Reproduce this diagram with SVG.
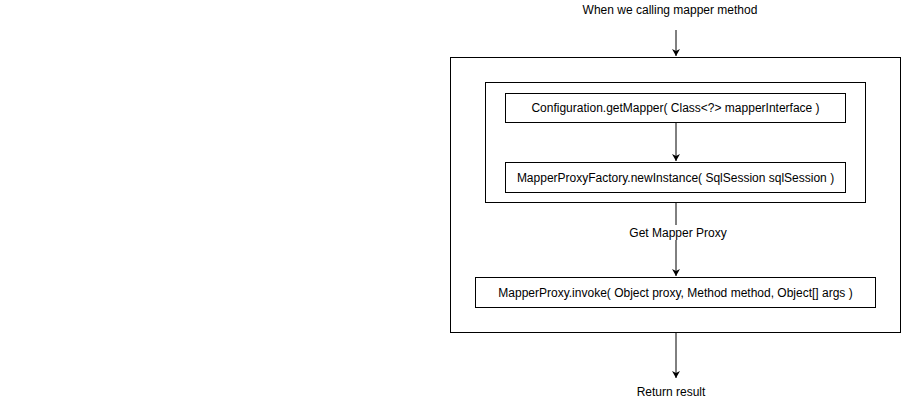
<svg xmlns="http://www.w3.org/2000/svg" width="901" height="403" viewBox="0 0 901 403">
<style>
.box{fill:#fff;stroke:#000;stroke-width:1}
.ln{stroke:#000;stroke-width:1;fill:none}
text{font-family:"Liberation Sans",Arial,sans-serif;font-size:12px;fill:#000;text-anchor:middle}
</style>
<defs>
<marker id="ah" markerWidth="10" markerHeight="10" refX="7" refY="4" orient="auto" markerUnits="userSpaceOnUse">
<path d="M0,0 L7,4 L0,8 L2,4 Z" fill="#000"/>
</marker>
</defs>
<rect width="901" height="403" fill="#fff"/>
<g id="outer"><rect class="box" x="450.5" y="57.5" width="450" height="275"/></g>
<g id="inner"><rect class="box" x="485.5" y="82.5" width="380" height="120"/></g>
<g id="start"><text x="670" y="14">When we calling mapper method</text></g>
<g id="getMapper"><rect class="box" x="505.5" y="93.5" width="340" height="29"/><text x="675.5" y="112">Configuration.getMapper( Class&lt;?&gt; mapperInterface )</text></g>
<g id="newInstance"><rect class="box" x="505.5" y="162.5" width="340" height="30"/><text x="675.5" y="182">MapperProxyFactory.newInstance( SqlSession sqlSession )</text></g>
<g id="invoke"><rect class="box" x="475.5" y="277.5" width="400" height="30"/><text x="675.5" y="297">MapperProxy.invoke( Object proxy, Method method, Object[] args )</text></g>
<g id="end"><text x="671" y="396">Return result</text></g>
<g id="connectors">
<line class="ln" x1="676" y1="30" x2="676" y2="56" marker-end="url(#ah)"/>
<line class="ln" x1="676" y1="123" x2="676" y2="161" marker-end="url(#ah)"/>
<line class="ln" x1="676" y1="203" x2="676" y2="276" marker-end="url(#ah)"/>
<rect x="626" y="225" width="100" height="15" fill="#fff"/>
<text x="678" y="237">Get Mapper Proxy</text>
<line class="ln" x1="676" y1="333" x2="676" y2="378" marker-end="url(#ah)"/>
</g>
</svg>
